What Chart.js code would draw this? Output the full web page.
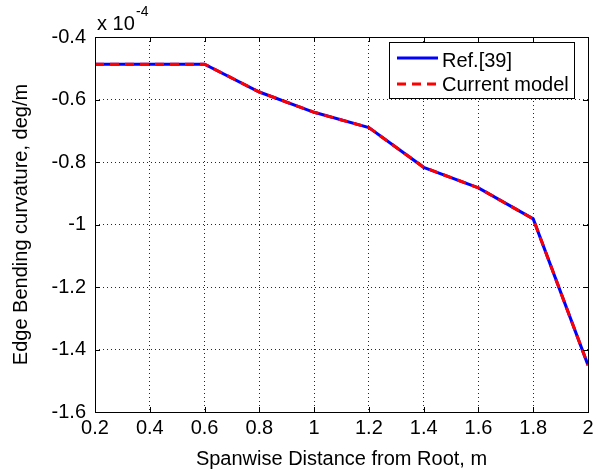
<!DOCTYPE html>
<html>
<head>
<meta charset="utf-8">
<script src="https://cdn.jsdelivr.net/npm/chart.js@4"></script>
<style>
    html, body { margin: 0; padding: 0; background: #fff; }
    #wrap { width: 598px; height: 470px; }
</style>
</head>
<body>
<div id="wrap"><canvas id="myChart" width="598" height="470"></canvas></div>
<script>
// data (curvature in units of 1e-4 deg/m)
const spanwise = [0.2, 0.4, 0.6, 0.8, 1.0, 1.2, 1.4, 1.6, 1.8, 2.0];
const refValues = [-0.487, -0.487, -0.487, -0.576, -0.641, -0.690, -0.817, -0.883, -0.982, -1.450];
const modelValues = [-0.487, -0.487, -0.487, -0.576, -0.641, -0.690, -0.817, -0.883, -0.982, -1.450];
const xTicks = [0.2, 0.4, 0.6, 0.8, 1, 1.2, 1.4, 1.6, 1.8, 2];
const yTicks = [-1.6, -1.4, -1.2, -1, -0.8, -0.6, -0.4];
const seriesLabels = ['Ref.[39]', 'Current model'];

const FONT = 'Liberation Sans, Arial, Helvetica, sans-serif';

function toPoints(values) {
    return spanwise.map((x, i) => ({ x: x, y: values[i] }));
}

// frame, inner ticks, exponent and legend box
const matlabPlugin = {
    id: 'matlab',
    afterDatasetsDraw(chart) {
        const ctx = chart.ctx;
        const a = chart.chartArea;
        const xs = chart.scales.x;
        const ys = chart.scales.y;
        const tl = 5;

        ctx.save();
        ctx.strokeStyle = '#000';
        ctx.lineWidth = 1;
        ctx.setLineDash([]);
        ctx.beginPath();
        xTicks.forEach(v => {
            const px = Math.round(xs.getPixelForValue(v)) + 0.5;
            ctx.moveTo(px, a.bottom); ctx.lineTo(px, a.bottom - tl);
            ctx.moveTo(px, a.top); ctx.lineTo(px, a.top + tl);
        });
        yTicks.forEach(v => {
            const py = Math.round(ys.getPixelForValue(v)) + 0.5;
            ctx.moveTo(a.left, py); ctx.lineTo(a.left + tl, py);
            ctx.moveTo(a.right, py); ctx.lineTo(a.right - tl, py);
        });
        ctx.stroke();
        ctx.strokeRect(Math.round(a.left) + 0.5, Math.round(a.top) + 0.5,
            Math.round(a.right - a.left), Math.round(a.bottom - a.top));

        // exponent label
        ctx.fillStyle = '#000';
        ctx.textBaseline = 'alphabetic';
        ctx.textAlign = 'left';
        ctx.font = '20px ' + FONT;
        ctx.fillText('x 10', 97, 30);
        ctx.font = '14px ' + FONT;
        ctx.fillText('-4', 136, 16);

        // legend
        const lx = 389.5, ly = 42.5, lw = 185, lh = 56;
        ctx.fillStyle = '#fff';
        ctx.fillRect(lx, ly, lw, lh);
        ctx.strokeRect(lx, ly, lw, lh);
        const ds = chart.data.datasets;
        const rows = [58, 84];
        const baselines = [66.5, 91];
        rows.forEach((y, i) => {
            ctx.strokeStyle = ds[i].borderColor;
            ctx.lineWidth = ds[i].borderWidth;
            ctx.setLineDash(ds[i].borderDash || []);
            ctx.beginPath();
            ctx.moveTo(397, y);
            ctx.lineTo(438, y);
            ctx.stroke();
            ctx.setLineDash([]);
            ctx.fillStyle = '#000';
            ctx.font = '20px ' + FONT;
            ctx.fillText(ds[i].label, 442, baselines[i]);
        });
        ctx.restore();
    }
};

const data = {
    datasets: [
        {
            label: seriesLabels[0],
            data: toPoints(refValues),
            borderColor: '#0000ff',
            borderWidth: 3,
            order: 2,
        },
        {
            label: seriesLabels[1],
            data: toPoints(modelValues),
            borderColor: '#ff0000',
            borderWidth: 3,
            borderDash: [9, 6],
            order: 1,
        },
    ],
};

const config = {
    type: 'line',
    data: data,
    options: {
        responsive: false,
        animation: false,
        devicePixelRatio: 1,
        layout: {
            padding: { top: 37, right: 10, left: 0, bottom: 0 }
        },
        elements: {
            point: { radius: 0 },
            line: { tension: 0, borderJoinStyle: 'miter' }
        },
        plugins: {
            legend: { display: false },
            tooltip: { enabled: false }
        },
        scales: {
            x: {
                type: 'linear',
                min: 0.2,
                max: 2,
                afterBuildTicks: (scale) => { scale.ticks = xTicks.map(v => ({ value: v })); },
                afterFit: (scale) => { scale.height = 58; scale.paddingLeft = 0; scale.paddingRight = 0; },
                ticks: {
                    color: '#000',
                    padding: 4,
                    maxRotation: 0,
                    autoSkip: false,
                    font: { family: FONT, size: 20 },
                    callback: (v) => String(v)
                },
                grid: {
                    color: 'rgba(0,0,0,0.85)',
                    lineWidth: 1,
                    drawTicks: false
                },
                border: { display: false, dash: [1, 3] },
                title: {
                    display: true,
                    text: 'Spanwise Distance from Root, m',
                    color: '#000',
                    font: { family: FONT, size: 20, lineHeight: 1 },
                    padding: { top: 1, bottom: 1 }
                }
            },
            y: {
                type: 'linear',
                min: -1.6,
                max: -0.4,
                afterBuildTicks: (scale) => { scale.ticks = yTicks.map(v => ({ value: v })); },
                afterFit: (scale) => { scale.width = 95; scale.paddingTop = 0; scale.paddingBottom = 0; },
                ticks: {
                    color: '#000',
                    padding: 9,
                    autoSkip: false,
                    font: { family: FONT, size: 20 },
                    callback: (v) => String(v)
                },
                grid: {
                    color: 'rgba(0,0,0,0.85)',
                    lineWidth: 1,
                    drawTicks: false
                },
                border: { display: false, dash: [1, 3] },
                title: {
                    display: true,
                    text: 'Edge Bending curvature, deg/m',
                    color: '#000',
                    font: { family: FONT, size: 20, lineHeight: 1 },
                    padding: { top: 11, bottom: 11 }
                }
            }
        }
    },
    plugins: [matlabPlugin]
};

const myChart = new Chart(document.getElementById('myChart'), config);
</script>
</body>
</html>
